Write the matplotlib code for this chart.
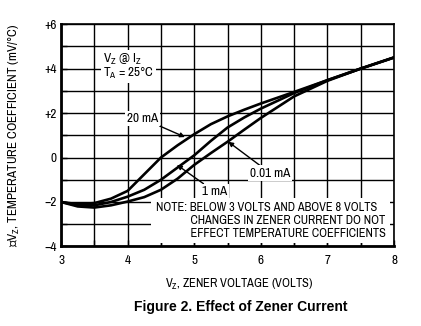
import numpy as np
import matplotlib.pyplot as plt

plt.rcParams['font.family'] = ['Archivo Narrow', 'DejaVu Sans']
plt.rcParams['mathtext.default'] = 'regular'

# values (mV/°C vs zener voltage)
vz = [3.0, 3.25, 3.5, 3.75, 4.0, 4.25, 4.5, 4.75, 5.0, 5.25, 5.5, 5.75, 6.0, 6.5, 7.0, 7.5, 8.0]
tc_20ma = [-2.0, -2.1, -2.05, -1.85, -1.5, -0.75, 0.0, 0.55, 1.05, 1.5, 1.85, 2.15, 2.43, 2.95, 3.48, 4.0, 4.5]
tc_1ma = [-2.0, -2.15, -2.15, -2.0, -1.76, -1.45, -1.0, -0.45, 0.1, 0.75, 1.35, 1.8, 2.2, 2.9, 3.48, 4.0, 4.5]
tc_001ma = [-2.0, -2.2, -2.25, -2.15, -1.98, -1.78, -1.45, -0.95, -0.33, 0.2, 0.71, 1.25, 1.78, 2.75, 3.45, 4.0, 4.5]

x_ticks = [3, 4, 5, 6, 7, 8]
y_ticks = [-4, -2, 0, 2, 4, 6]
y_labels = ['\u22124', '\u22122', '0', '+2', '+4', '+6']

fig = plt.figure(figsize=(4.21, 3.26), dpi=100)
ax = fig.add_axes([0.145, 0.244, 0.791, 0.682])

for tc in (tc_20ma, tc_1ma, tc_001ma):
    ax.plot(vz, tc, color='black', lw=1.9, solid_capstyle='round', zorder=4)

ax.set_xlim(3, 8)
ax.set_ylim(-4, 6)
ax.set_xticks(x_ticks)
ax.set_xticks(np.arange(3, 8.01, 0.5), minor=True)
ax.set_yticks(y_ticks)
ax.set_yticklabels(y_labels)
ax.set_yticks(np.arange(-4, 6.01, 1), minor=True)
ax.grid(which='both', color='black', lw=1.0)
ax.tick_params(which='both', direction='in', length=4, width=1, labelsize=9.5)
ax.tick_params(axis='x', pad=6)
ax.tick_params(axis='y', pad=3)
for s in ax.spines.values():
    s.set_linewidth(1.2)
ax.spines['left'].set_linewidth(2)
ax.spines['bottom'].set_linewidth(2)

ax.set_xlabel('V$_Z$, ZENER VOLTAGE (VOLTS)', fontsize=9)
ax.xaxis.set_label_coords(0.535, -0.135)
ax.set_ylabel('\u03b8V$_Z$, TEMPERATURE COEFFICIENT (mV/\u00b0C)', fontsize=9.4)
ax.yaxis.set_label_coords(-0.117, 0.5)

wb = dict(facecolor='white', edgecolor='none', pad=1.5)
ax.text(3.63, 4.1, 'V$_Z$ @ I$_Z$\nT$_A$ = 25\u00b0C', fontsize=9.5, va='center', ha='left',
        linespacing=0.85, bbox=wb, zorder=5)

ap = dict(arrowstyle='-|>', color='black', lw=1, mutation_scale=7, shrinkA=0, shrinkB=0)
ax.annotate('20 mA', xy=(4.86, 0.92), xytext=(4.22, 1.76), fontsize=9.5,
            ha='center', va='center', bbox=wb, arrowprops=ap, zorder=5)
ax.annotate('0.01 mA', xy=(5.51, 0.71), xytext=(6.14, -0.7), fontsize=9.5,
            ha='center', va='center', bbox=wb, arrowprops=ap, zorder=5)
ax.annotate('1 mA', xy=(4.74, -0.33), xytext=(5.3, -1.52), fontsize=9.5,
            ha='center', va='center', bbox=wb, arrowprops=ap, zorder=5)

ax.text(4.42, -2.0, 'NOTE: BELOW 3 VOLTS AND ABOVE 8 VOLTS\n'
        '            CHANGES IN ZENER CURRENT DO NOT\n'
        '            EFFECT TEMPERATURE COEFFICIENTS',
        fontsize=8.9, ha='left', va='top', linespacing=1.2,
        bbox=dict(facecolor='white', edgecolor='none', pad=3), zorder=5)

fig.text(0.573, 0.058, 'Figure 2. Effect of Zener Current', fontsize=10,
         fontweight='bold', family='Liberation Sans', ha='center', va='center')

fig.savefig('out.png', dpi=100)
